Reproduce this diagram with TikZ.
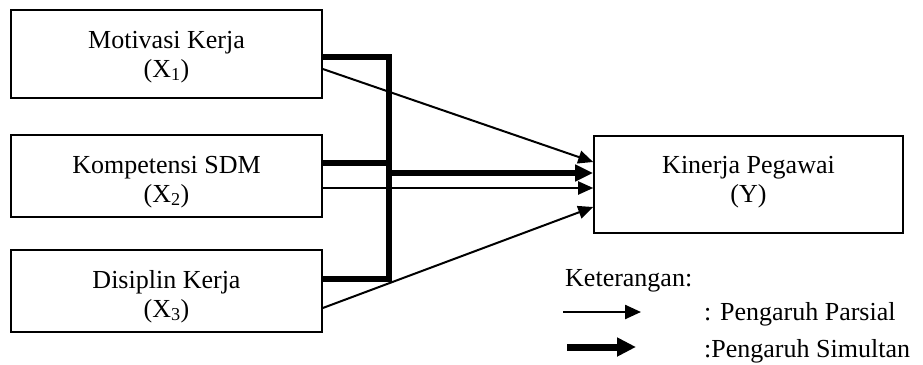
\documentclass[tikz,border=0pt]{standalone}
\usepackage{fontspec}
\setmainfont{Liberation Serif}
\usetikzlibrary{arrows.meta}
\tikzset{
  box/.style={draw, line width=1.6pt, rectangle, align=center, inner sep=0pt,
    font=\fontsize{26}{29}\selectfont, text depth=6pt},
  thickline/.style={line width=6pt, line join=miter},
  thinarrow/.style={line width=2pt, -{Triangle[length=15pt,width=13pt]}},
  thickarrow/.style={line width=6pt, -{Triangle[length=18pt,width=16pt]}},
  legthin/.style={line width=2.4pt, -{Triangle[length=16pt,width=14pt]}},
  legthick/.style={line width=7pt, -{Triangle[length=19pt,width=18pt]}},
  legtext/.style={anchor=base west, inner sep=0pt, font=\fontsize{26}{29}\selectfont}
}
\begin{document}
\begin{tikzpicture}[x=1pt, y=-1pt]
\useasboundingbox (0,0) rectangle (923,364);
\node[box, text height=52pt, minimum width=311pt, minimum height=88pt] (x1) at (166.5,54) {Motivasi Kerja\\(X\textsubscript{1})};
\node[box, text height=58pt, minimum width=311pt, minimum height=82pt] (x2) at (166.5,176) {Kompetensi SDM\\(X\textsubscript{2})};
\node[box, text height=58pt, minimum width=311pt, minimum height=82pt] (x3) at (166.5,291) {Disiplin Kerja\\(X\textsubscript{3})};
\node[box, text height=41pt, minimum width=309pt, minimum height=97pt] (y) at (748.5,184.5) {Kinerja Pegawai\\(Y)};
\coordinate (bustop) at (389,57);
\coordinate (busx2) at (389,163);
\coordinate (busmid) at (389,173);
\coordinate (busbot) at (389,279);
% simultaneous (thick)
\draw[thickline] ([yshift=-3pt]x1.east) -- (bustop) -- (busbot) -- ([yshift=12pt]x3.east);
\draw[thickline] ([yshift=13pt]x2.east) -- (busx2);
\draw[thickarrow] (busmid) -- ([yshift=11.5pt]y.west);
% partial (thin)
\draw[thinarrow] ([yshift=-15pt]x1.east) -- ([yshift=22.5pt]y.west);
\draw[thinarrow] ([yshift=-12pt]x2.east) -- ([yshift=-3.5pt]y.west);
\draw[thinarrow] ([yshift=-17pt]x3.east) -- ([yshift=-22.5pt]y.west);
% legend
\node[legtext] (ket) at (565,286) {Keterangan:};
\coordinate (lta) at (563,312);
\coordinate (ltb) at (641,312);
\coordinate (lka) at (567,347);
\coordinate (lkb) at (636,347);
\draw[legthin] (lta) -- (ltb);
\draw[legthick] (lka) -- (lkb);
\node[legtext] (parsial) at (704,320) {: Pengaruh Parsial};
\node[legtext] (simultan) at (704,357) {:Pengaruh Simultan};
\end{tikzpicture}
\end{document}
